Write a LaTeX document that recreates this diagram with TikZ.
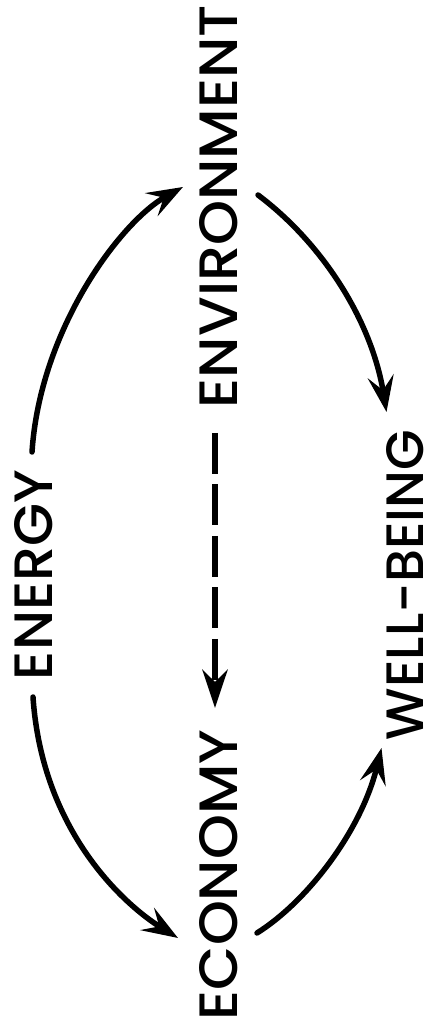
\documentclass[tikz,border=0pt]{standalone}
\usepackage{fontspec}
\setmainfont{Poppins Medium}
\usetikzlibrary{arrows.meta,calc}
\begin{document}
\begin{tikzpicture}[x=1pt,y=1pt,
  lbl/.style={rotate=90,inner sep=0pt},
  arr/.style={line width=5.5pt,line cap=round,-{Stealth[length=36pt,width=26pt,inset=14pt]}},
  darr/.style={line width=6.5pt,dash pattern=on 41pt off 10.5pt,-{Stealth[length=38pt,width=25pt,inset=12pt]}}]
\fill[white] (0,0) rectangle (432,1032);
\useasboundingbox (0,0) rectangle (432,1032);
\node[lbl] (envir) at (219,825.5) {\resizebox{403pt}{38pt}{ENVIRONMENT}};
\node[lbl] (energy) at (34,457) {\resizebox{210pt}{38pt}{ENERGY}};
\node[lbl] (econ) at (219,157) {\resizebox{290pt}{38pt}{ECONOMY}};
\node[lbl] (well) at (405,447) {\resizebox{310pt}{37pt}{WELL-BEING}};
\draw[arr] ($(energy.center)+(-2,123)$) .. controls +(8,122) and +(-63,-35) .. ($(envir.center)+(-36,19.5)$);
\draw[arr] ($(envir.center)+(39,11.5)$) .. controls +(64,-48) and +(-15,92) .. ($(well.center)+(-18.5,173)$);
\draw[arr] ($(energy.center)+(-1,-122)$) .. controls +(9,-133) and +(-55,34) .. ($(econ.center)+(-41,-63)$);
\draw[arr] ($(econ.center)+(38,-58)$) .. controls +(51,32) and +(-20,-82) .. ($(well.center)+(-23.5,-163)$);
\draw[darr] ($(envir.center)+(-4,-226.5)$) -- ($(econ.center)+(-4,167)$);
\end{tikzpicture}
\end{document}
